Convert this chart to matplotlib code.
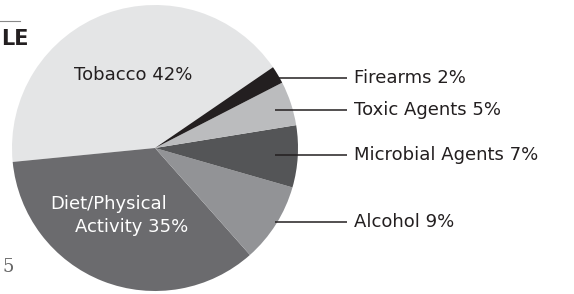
import matplotlib.pyplot as plt

# données du graphique
categories = ['Tobacco', 'Diet/Physical Activity', 'Alcohol', 'Microbial Agents',
              'Toxic Agents', 'Firearms']
percents = [42, 35, 9, 7, 5, 2]
couleurs = ['#e4e5e6', '#6b6b6e', '#929396', '#545557', '#bbbcbe', '#231f20']

sombre = '#231f20'
W, H = 574, 294
fig = plt.figure(figsize=(W / 100, H / 100), dpi=100)

# axes du camembert (centre ~ (155,148) px, rayon ~143 px)
cx, cy, r = 155, 148, 143
ax = fig.add_axes([(cx - r) / W, (H - cy - r) / H, 2 * r / W, 2 * r / H])
ax.pie(percents, colors=couleurs, startangle=34.4, counterclock=True, radius=1,
       wedgeprops=dict(linewidth=0))
ax.set_xlim(-1, 1)
ax.set_ylim(-1, 1)
ax.set_aspect('equal')
ax.axis('off')

police = dict(family='DejaVu Sans', fontsize=13)

# étiquettes internes
ax.text(-0.154, 0.51, f'{categories[0]} {percents[0]}%', color=sombre,
        ha='center', va='center', **police)
ax.text(-0.325, -0.392, 'Diet/Physical', color='white',
        ha='center', va='center', **police)
ax.text(-0.164, -0.552, f'Activity {percents[1]}%', color='white',
        ha='center', va='center', **police)

# étiquettes externes avec traits de rappel
externes = [2, 3, 4, 5]
label_y = {5: 0.49, 4: 0.266, 3: -0.049, 2: -0.517}
x_debut = {5: 0.86, 4: 0.839, 3: 0.839, 2: 0.839}
for i in externes:
    y = label_y[i]
    ax.plot([x_debut[i], 1.343], [y, y], color=sombre, lw=1.1,
            clip_on=False, solid_capstyle='butt')
    ax.text(1.395, y, f'{categories[i]} {percents[i]}%', color=sombre,
            ha='left', va='center', **police)

# restes de la page
fig.add_artist(plt.Line2D([0, 20 / W], [1 - 21 / H, 1 - 21 / H],
                          color='#888888', lw=0.8))
fig.text(1 / W, 1 - 39 / H, 'LE', fontsize=15, fontweight='bold', color=sombre,
         ha='left', va='center', family='DejaVu Sans')
fig.text(2 / W, 1 - 267 / H, '5', fontsize=13, color='#666666',
         ha='left', va='center', family='DejaVu Serif')

fig.savefig('out.png', dpi=100)
